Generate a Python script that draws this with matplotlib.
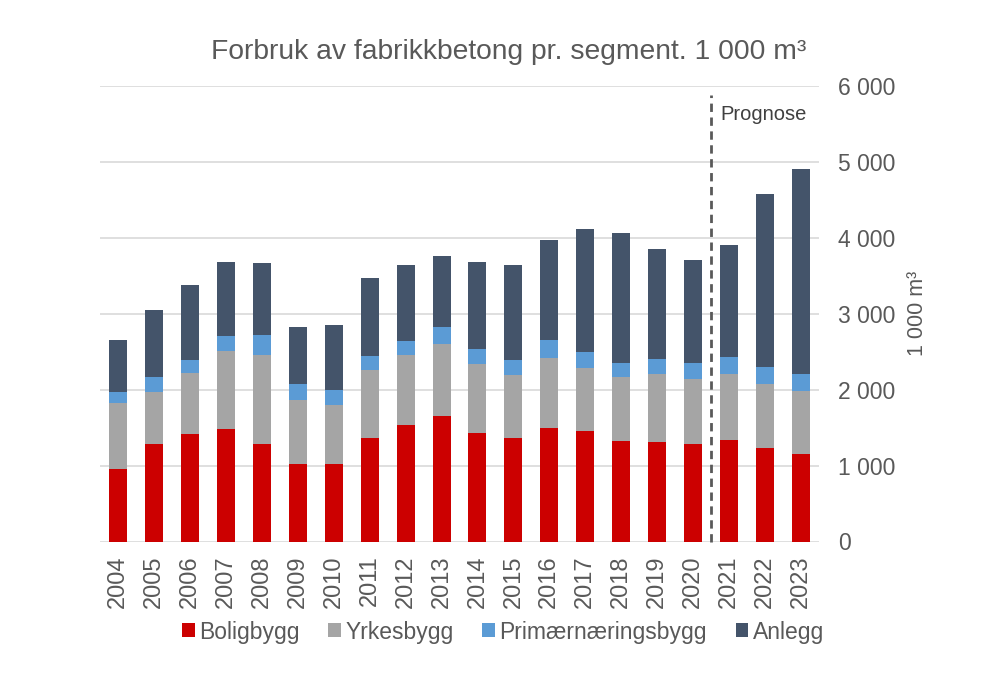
import numpy as np
import matplotlib.pyplot as plt
from matplotlib.ticker import FuncFormatter

plt.rcParams['font.family'] = ['Liberation Sans', 'DejaVu Sans']

years = [str(y) for y in range(2004, 2024)]
boligbygg = [956, 1285, 1413, 1483, 1285, 1018, 1022, 1364, 1531, 1650,
             1435, 1364, 1496, 1452, 1321, 1312, 1285, 1338, 1233, 1154]
yrkesbygg = [865, 690, 803, 1023, 1168, 852, 773, 891, 922, 957,
             899, 835, 917, 830, 842, 891, 856, 869, 838, 825]
primaer = [145, 188, 171, 197, 263, 201, 202, 185, 188, 219,
           202, 192, 237, 215, 185, 201, 211, 224, 228, 224]
anlegg = [694, 882, 997, 984, 948, 751, 860, 1027, 1006, 940,
          1151, 1256, 1326, 1615, 1711, 1454, 1352, 1470, 2278, 2708]

series = [("Boligbygg", boligbygg, "#cc0000"),
          ("Yrkesbygg", yrkesbygg, "#a5a5a5"),
          ("Primærnæringsbygg", primaer, "#5b9bd5"),
          ("Anlegg", anlegg, "#44546a")]

txt = "#595959"

fig = plt.figure(figsize=(9.89, 6.96), dpi=100)
ax = fig.add_axes([100 / 989, 1 - 541.5 / 696, 719 / 989, 455.5 / 696])

x = np.arange(len(years))
bottom = np.zeros(len(years))
for name, vals, col in series:
    ax.bar(x, vals, width=0.5, bottom=bottom, color=col, label=name, zorder=3)
    bottom += np.array(vals)

ax.set_xlim(-0.5, len(years) - 0.5)
ax.set_ylim(0, 6000)
ax.set_yticks(range(0, 6001, 1000))
ax.yaxis.set_major_formatter(FuncFormatter(lambda v, p: f"{int(v):,}".replace(",", " ")))
ax.yaxis.tick_right()
ax.yaxis.set_label_position("right")
ax.set_ylabel("1 000 m³", color=txt, fontsize=15.5, labelpad=8)
ax.grid(axis="y", color="#d9d9d9", linewidth=1.2, zorder=0)
for s in ax.spines.values():
    s.set_visible(False)
ax.tick_params(axis="y", length=0, labelsize=16.5, labelcolor=txt, pad=14)
ax.set_xticks(x)
ax.set_xticklabels(years, rotation=90)
ax.tick_params(axis="x", length=0, labelsize=17, labelcolor=txt, pad=10)

# prognose-skille
ax.plot([16.5, 16.5], [0, 5880], linestyle=(0, (3, 2)), color="#595959",
        linewidth=2, zorder=4, clip_on=False)
ax.text(16.75, 5630, "Prognose", fontsize=14.5, color="#404040", va="center")

fig.suptitle("Forbruk av fabrikkbetong pr. segment. 1 000 m³", x=509 / 989, y=1 - 52 / 696,
             va="center", fontsize=20.3, color=txt)

ax.legend(loc="center", bbox_to_anchor=((503 - 100) / 719, -(632 - 541.5) / 455.5), ncol=4,
          frameon=False, fontsize=16.5, labelcolor=txt, handlelength=0.55,
          handleheight=0.55, handletextpad=0.2, columnspacing=1.25)

fig.savefig("out.png", dpi=100)
